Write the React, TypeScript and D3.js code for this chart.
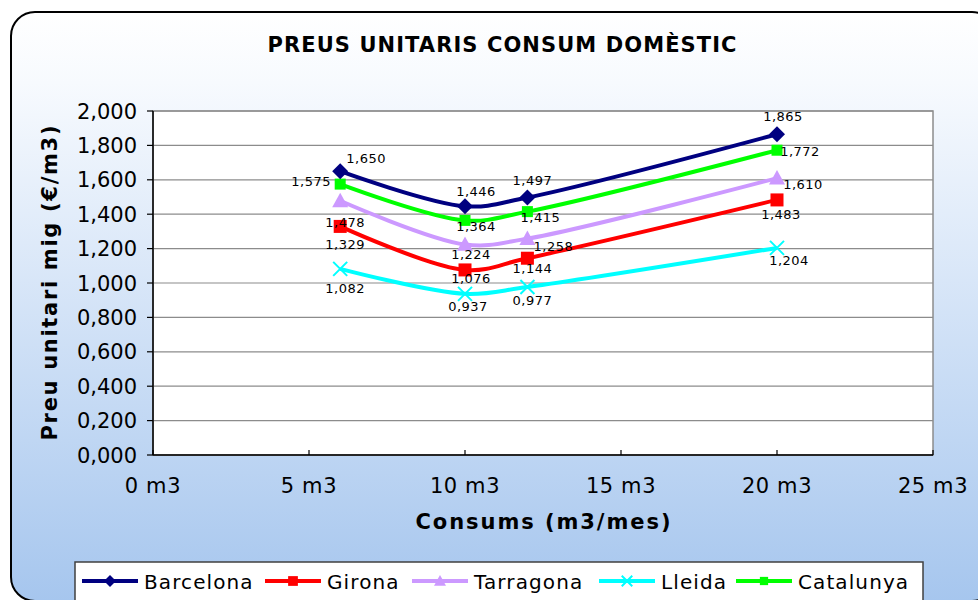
import React from "react";
import * as d3 from "d3";

const consums = [6, 10, 12, 20];
const xTicks = [0, 5, 10, 15, 20, 25];
const yTicks = [0, 0.2, 0.4, 0.6, 0.8, 1.0, 1.2, 1.4, 1.6, 1.8, 2.0];

const seriesNames = ["Barcelona", "Girona", "Tarragona", "Lleida", "Catalunya"];
const barcelona = [1.65, 1.446, 1.497, 1.865];
const girona = [1.329, 1.076, 1.144, 1.483];
const tarragona = [1.478, 1.224, 1.258, 1.61];
const lleida = [1.082, 0.937, 0.977, 1.204];
const catalunya = [1.575, 1.364, 1.415, 1.772];

const seriesValues = [barcelona, girona, tarragona, lleida, catalunya];
const seriesColors = ["#000080", "#FF0000", "#CC99FF", "#00FFFF", "#00FF00"];
const seriesMarkers = ["diamond", "square", "triangle", "x", "square"];
const markerSizes = [8, 6.5, 8, 7, 5.5];
// label offsets (dx, dy of label center relative to point)
const labelOffsets = [
  [[26, -13], [11, -15], [5, -18], [6, -18]],
  [[5, 18], [6, 8], [5, 10], [4, 14]],
  [[5, 21], [6, 10], [26, 7], [26, 6]],
  [[5, 19], [3, 12], [5, 13], [12, 12]],
  [[-29, -3], [11, 6], [13, 5], [23, 1]],
];
const legendX = [82, 265, 412, 599, 736];
const drawOrder = [3, 1, 2, 4, 0];

const fmt = (v: number) => d3.format(".3f")(v).replace(".", ",");

function Marker({ type, cx, cy, r, color }: any) {
  if (type === "diamond") {
    return <path d={`M${cx},${cy - r}L${cx + r},${cy}L${cx},${cy + r}L${cx - r},${cy}Z`} fill={color} />;
  }
  if (type === "square") {
    return <rect x={cx - r} y={cy - r} width={2 * r} height={2 * r} fill={color} />;
  }
  if (type === "triangle") {
    return <path d={`M${cx},${cy - r}L${cx + r},${cy + r * 0.8}L${cx - r},${cy + r * 0.8}Z`} fill={color} />;
  }
  return (
    <path d={`M${cx - r},${cy - r}L${cx + r},${cy + r}M${cx + r},${cy - r}L${cx - r},${cy + r}`} stroke={color} strokeWidth={2} fill="none" />
  );
}

export default function App() {
  const W = 978, H = 600;
  const left = 153, right = 933, top = 111, bottom = 455;
  const x = d3.scaleLinear().domain([0, 25]).range([left, right]);
  const y = d3.scaleLinear().domain([0, 2]).range([bottom, top]);
  const line = d3
    .line<number>()
    .x((_, i) => x(consums[i]))
    .y((d) => y(d))
    .curve(d3.curveCatmullRom.alpha(0.5));
  const font = "'DejaVu Sans', Verdana, sans-serif";

  return (
    <svg width={W} height={H} style={{ position: "absolute", left: 0, top: 0 }} fontFamily={font}>
      <defs>
        <linearGradient id="bg" x1="0" y1="0" x2="0" y2="1">
          <stop offset="0" stopColor="#ffffff" />
          <stop offset="0.12" stopColor="#f7fafe" />
          <stop offset="1" stopColor="#a6c6ee" />
        </linearGradient>
      </defs>
      <rect x={0} y={0} width={W} height={H} fill="#ffffff" />
      <rect x={11} y={12} width={985} height={589} rx={24} ry={24} fill="url(#bg)" stroke="#000" strokeWidth={2} />

      <text x={502} y={52} textAnchor="middle" fontSize={21} fontWeight="bold" textLength={469} lengthAdjust="spacing">
        PREUS UNITARIS CONSUM DOMÈSTIC
      </text>

      <rect x={left} y={top} width={right - left} height={bottom - top} fill="#ffffff" stroke="#8c8c8c" strokeWidth={1.5} />
      {yTicks.map((t) => (
        <line key={"g" + t} x1={left} x2={right} y1={y(t)} y2={y(t)} stroke="#8c8c8c" strokeWidth={1.2} />
      ))}
      <line x1={left} x2={left} y1={top} y2={bottom} stroke="#000" strokeWidth={1.5} />
      <line x1={left} x2={right} y1={bottom} y2={bottom} stroke="#000" strokeWidth={1.5} />
      {yTicks.map((t) => (
        <g key={"y" + t}>
          <line x1={left - 6} x2={left} y1={y(t)} y2={y(t)} stroke="#000" strokeWidth={1.2} />
          <text x={137} y={y(t) + 7.5} textAnchor="end" fontSize={21}>
            {d3.format(".3f")(t).replace(".", ",")}
          </text>
        </g>
      ))}
      {xTicks.map((t) => (
        <g key={"x" + t}>
          <line x1={x(t)} x2={x(t)} y1={bottom - 5} y2={bottom} stroke="#000" strokeWidth={1.2} />
          <text x={x(t)} y={493} textAnchor="middle" fontSize={21} letterSpacing={0.6}>
            {t} m3
          </text>
        </g>
      ))}

      <text x={543} y={529} textAnchor="middle" fontSize={21} fontWeight="bold" textLength={255} lengthAdjust="spacing">
        Consums (m3/mes)
      </text>
      <text
        transform={`translate(57,283) rotate(-90)`}
        textAnchor="middle"
        fontSize={21}
        fontWeight="bold"
        textLength={315}
        lengthAdjust="spacing"
      >
        Preu unitari mig (€/m3)
      </text>

      {drawOrder.map((si) => (
        <g key={"s" + si}>
          <path d={line(seriesValues[si]) || ""} fill="none" stroke={seriesColors[si]} strokeWidth={4} />
          {seriesValues[si].map((v, i) => (
            <Marker key={i} type={seriesMarkers[si]} cx={x(consums[i])} cy={y(v)} r={markerSizes[si]} color={seriesColors[si]} />
          ))}
        </g>
      ))}
      {seriesValues.map((vals, si) =>
        vals.map((v, i) => (
          <text
            key={"l" + si + i}
            x={x(consums[i]) + labelOffsets[si][i][0]}
            y={y(v) + labelOffsets[si][i][1] + 5}
            textAnchor="middle"
            fontSize={13}
            letterSpacing={0.5}
            fill="#000"
          >
            {fmt(v)}
          </text>
        ))
      )}

      <rect x={75} y={562} width={848} height={40} fill="#ffffff" stroke="#404040" strokeWidth={1.5} />
      {seriesNames.map((n, si) => {
        const lx = legendX[si];
        const cy = 581;
        return (
          <g key={"lg" + si}>
            <line x1={lx} x2={lx + 56} y1={cy} y2={cy} stroke={seriesColors[si]} strokeWidth={4} />
            <Marker type={seriesMarkers[si]} cx={lx + 28} cy={cy} r={markerSizes[si] * 0.75} color={seriesColors[si]} />
            <text x={lx + 62} y={cy + 7.5} fontSize={20} letterSpacing={1.1}>
              {n}
            </text>
          </g>
        );
      })}
    </svg>
  );
}
